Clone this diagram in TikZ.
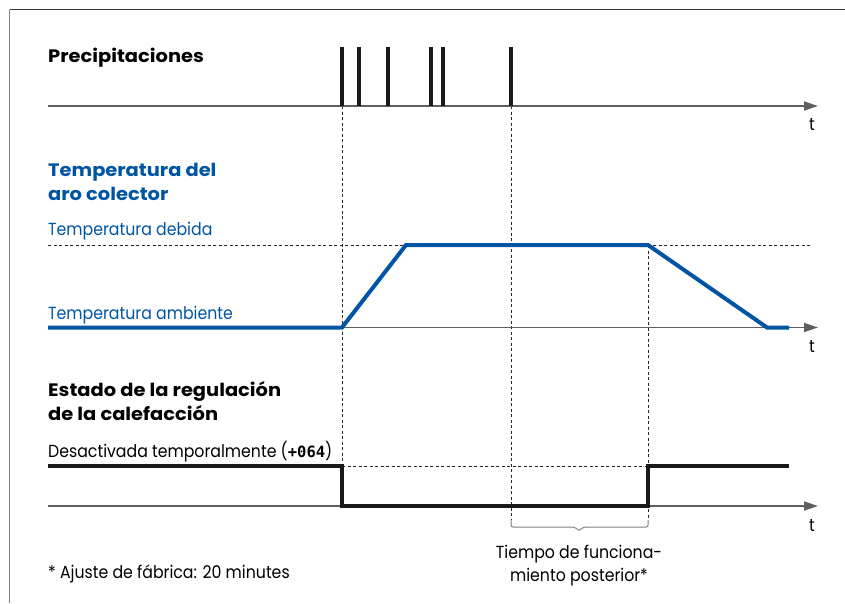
\documentclass[tikz,border=0pt]{standalone}
\usepackage{fontspec}
\setmainfont[FakeStretch=0.9,BoldFeatures={FakeStretch=1.08}]{Poppins}
\newfontfamily\codefont{DejaVu Sans Mono}
\usetikzlibrary{arrows.meta}

\definecolor{ringblue}{RGB}{0,84,164}
\definecolor{axisgray}{RGB}{95,95,95}

\begin{document}
\begin{tikzpicture}
           [x=1pt,y=-1pt,
            timeaxis/.style={draw=axisgray,line width=1.8pt,-{Triangle[length=14pt,width=9pt]}},
            guide/.style={black!85,line width=0.8pt,dash pattern=on 3pt off 2.5pt},
            lbl/.style={anchor=base west,inner sep=0pt,font=\fontsize{17.5}{21}\selectfont},
            hdr/.style={anchor=base west,inner sep=0pt,align=left,
                        font=\fontsize{18}{24}\selectfont\bfseries},
            tlbl/.style={anchor=base,inner sep=0pt,font=\fontsize{17.5}{22.5}\selectfont}]
           \useasboundingbox (0,0) rectangle (845,603);

           % frame
           \draw[gray,line width=1.5pt] (9.5,603) -- (9.5,9.5);
           \draw[black!80,line width=1.5pt] (9.5,9.5) -- (845,9.5);

           % dashed guides
           \draw[guide] (342,106) -- (342,506);
           \draw[guide] (511,106) -- (511,520);
           \draw[guide] (648,245) -- (648,520);
           \draw[guide] (48,245) -- (812,245);
           \draw[guide] (342,466) -- (648,466);

           % precipitation
           \node[hdr] (rain) at (48,62) {Precipitaciones};
           \draw[timeaxis] (48,106) -- (818,106);
           \node[tlbl] (t1) at (812,130) {t};
           \foreach \x in {342,359,388,431,443,511}
             \draw[line width=3.4pt,black!90] (\x,47) -- (\x,106);

           % ring temperature
           \node[hdr,text=ringblue] (ring) at (48,200) {Temperatura del\\aro colector};
           \node[lbl,text=ringblue] (target) at (48,235) {Temperatura debida};
           \node[lbl,text=ringblue] (ambient) at (48,319) {Temperatura ambiente};
           \draw[timeaxis] (48,327.5) -- (818,327.5);
           \node[tlbl] (t2) at (812,352) {t};
           \draw[ringblue,line width=4pt,line join=miter]
             (48,327.5) -- (342,327.5) -- (406,245) -- (648,245) -- (767,327.5) -- (789,327.5);

           % heating control state
           \node[hdr] (state) at (48,420) {Estado de la regulación\\de la calefacción};
           \node[lbl] (off) at (48,457) {Desactivada temporalmente ({\codefont\fontsize{15.5}{19}\selectfont\bfseries +064})};
           \draw[timeaxis] (48,506) -- (818,506);
           \node[tlbl] (t3) at (812,531) {t};
           \draw[black!90,line width=3.4pt,line join=miter]
             (48,466) -- (342,466) -- (342,506) -- (648,506) -- (648,466) -- (789,466);

           % run-on time
           \draw[gray,line width=1pt,rounded corners=2pt]
             (511,520) -- (511,527) -- (575,527) -- (579,531) -- (583,527) -- (648,527) -- (648,520);
           \node[tlbl,align=center] (runon) at (579,581)
             {Tiempo de funciona-\\miento posterior*};

           \node[lbl] (note) at (48,578) {* Ajuste de fábrica: 20 minutes};
         \end{tikzpicture}
\end{document}
